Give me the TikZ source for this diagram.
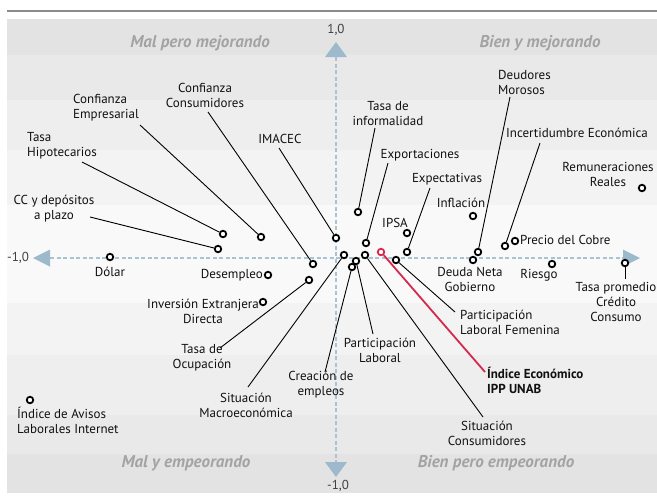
\documentclass[tikz,border=0pt]{standalone}
\usepackage{fontspec}
\setmainfont{PT Sans}

\definecolor{bandA}{HTML}{E3E3E3}
\definecolor{bandB}{HTML}{E9E9E9}
\definecolor{bandC}{HTML}{EEEEEE}
\definecolor{bandD}{HTML}{F3F3F3}
\definecolor{bandE}{HTML}{F9F9F9}
\definecolor{axisblue}{HTML}{A9C3D3}
\definecolor{tipblue}{HTML}{9CBACC}
\definecolor{quadgray}{HTML}{A3A3A3}
\definecolor{ippred}{HTML}{D42A4C}
\definecolor{txt}{HTML}{111111}

\tikzset{
  pt/.style={circle, draw=black, fill=white, line width=1.8pt, inner sep=0pt, minimum size=6.5pt},
  ptred/.style={pt, draw=ippred},
  lbl/.style={font=\fontsize{13}{15}\selectfont, text=txt, inner sep=0pt, align=center},
  quad/.style={font=\fontsize{17}{18}\selectfont\bfseries\itshape, text=quadgray, inner sep=0pt},
  conn/.style={black, line width=0.9pt},
}

\begin{document}
\begin{tikzpicture}[x=1pt,y=-1pt,line join=round]
\useasboundingbox (0,0) rectangle (657,496);

% panel
\fill[bandA] (7,19) rectangle (657,55);
\fill[bandB] (7,55) rectangle (657,100);
\fill[bandC] (7,100) rectangle (657,150);
\fill[bandD] (7,150) rectangle (657,205);
\fill[bandE] (7,205) rectangle (657,303);
\fill[bandD] (7,303) rectangle (657,355);
\fill[bandC] (7,355) rectangle (657,415);
\fill[bandB] (7,415) rectangle (657,454);
\fill[bandA] (7,454) rectangle (657,493);
\draw[line width=2pt, color=black!45] (7,11) -- (657,11);

% axes
\draw[axisblue, line width=2pt, dash pattern=on 4pt off 2.5pt] (50,258) -- (623,258);
\draw[axisblue, line width=2pt, dash pattern=on 4pt off 2.5pt] (336,57) -- (336,462);
\fill[tipblue] (33,258) -- (50,249.5) -- (50,266.5) -- cycle;
\fill[tipblue] (640,258) -- (623,249.5) -- (623,266.5) -- cycle;
\fill[tipblue] (336,42) -- (325,57) -- (347,57) -- cycle;
\fill[tipblue] (336,477) -- (325,462) -- (347,462) -- cycle;

\node[lbl, text=black!75] (ytop) at (336,30) {1,0};
\node[lbl, text=black!75] (xleft) at (18,258) {-1,0};
\node[lbl, text=black!75] (ybot) at (338,486) {-1,0};

\node[quad] (q1) at (200,43) {Mal pero mejorando};
\node[quad] (q2) at (540,43) {Bien y mejorando};
\node[quad] (q3) at (186,463) {Mal y empeorando};
\node[quad] (q4) at (496,463) {Bien pero empeorando};

% points
\node[pt] (thip) at (223,234) {};
\node[pt] (cemp) at (261,237) {};
\node[pt] (ccdep) at (218,249) {};
\node[pt] (dolar) at (110,257) {};
\node[pt] (desem) at (268,275) {};
\node[pt] (inver) at (263,302) {};
\node[pt] (ccon) at (313,264) {};
\node[pt] (tocup) at (309,280) {};
\node[pt] (imacec) at (336,238) {};
\node[pt] (tinf) at (358,212) {};
\node[pt] (expo) at (366,243) {};
\node[pt] (smac) at (344,255) {};
\node[pt] (plab) at (356,261) {};
\node[pt] (cemple) at (352,267) {};
\node[pt] (scon) at (365,255) {};
\node[pt] (plf) at (396,260) {};
\node[pt] (ipsa) at (407,233) {};
\node[pt] (expec) at (407,252) {};
\node[pt] (infl) at (473,216) {};
\node[pt] (dmor) at (478,252) {};
\node[pt] (dng) at (473,260) {};
\node[pt] (incert) at (505,246) {};
\node[pt] (cobre) at (515,241) {};
\node[pt] (riesgo) at (552,264) {};
\node[pt] (tasap) at (625,263) {};
\node[pt] (remun) at (642,188) {};
\node[pt] (avisos) at (30,400) {};
\node[ptred] (ipp) at (381,252) {};

% line ends
\coordinate (e-cemp) at (140,125);
\coordinate (e-ccon) at (208,112);
\coordinate (e-thip) at (82,162);
\coordinate (e-ccdep) at (90,217);
\coordinate (e-imacec) at (279,148);
\coordinate (e-tinf) at (375,128);
\coordinate (e-expo) at (388,163);
\coordinate (e-expec) at (430,188);
\coordinate (e-dmor) at (510,97);
\coordinate (e-incert) at (540,143);
\coordinate (e-tocup) at (220,348);
\coordinate (e-smac) at (248,387);
\coordinate (e-cemple) at (325,372);
\coordinate (e-plab) at (373,334);
\coordinate (e-scon) at (483,417);
\coordinate (e-plf) at (455,312);
\coordinate (e-ipp) at (485,372);
\coordinate (e-tasap) at (625,279);

\draw[conn] (e-cemp) -- (cemp);
\draw[conn] (e-ccon) -- (ccon);
\draw[conn] (e-thip) -- (thip);
\draw[conn] (e-ccdep) -- (ccdep);
\draw[conn] (e-imacec) -- (imacec);
\draw[conn] (e-tinf) -- (tinf);
\draw[conn] (e-expo) -- (expo);
\draw[conn] (e-expec) -- (expec);
\draw[conn] (e-dmor) -- (dmor);
\draw[conn] (e-incert) -- (incert);
\draw[conn] (e-tocup) -- (tocup);
\draw[conn] (e-smac) -- (smac);
\draw[conn] (e-cemple) -- (cemple);
\draw[conn] (e-plab) -- (plab);
\draw[conn] (e-scon) -- (scon);
\draw[conn] (e-plf) -- (plf);
\draw[conn] (e-tasap) -- (tasap);
\draw[ippred, line width=1.8pt] (e-ipp) -- (ipp);

% labels
\node[lbl, align=left, anchor=west] (l-cemp) at (73,108) {Confianza\\Empresarial};
\node[lbl] (l-ccon) at (205,95) {Confianza\\Consumidores};
\node[lbl, align=left, anchor=west] (l-thip) at (27,146) {Tasa\\Hipotecarios};
\node[lbl] (l-ccdep) at (54,209) {CC y depósitos\\a plazo};
\node[lbl] (l-imacec) at (280,139) {IMACEC};
\node[lbl] (l-tinf) at (388,114) {Tasa de\\informalidad};
\node[lbl] (l-expo) at (420,155) {Exportaciones};
\node[lbl] (l-expec) at (447,179) {Expectativas};
\node[lbl] (l-ipsa) at (395,223) {IPSA};
\node[lbl] (l-infl) at (461,203) {Inflación};
\node[lbl, align=left, anchor=west] (l-dmor) at (498,82) {Deudores\\Morosos};
\node[lbl] (l-incert) at (577,133) {Incertidumbre Económica};
\node[lbl] (l-remun) at (608,174) {Remuneraciones\\Reales};
\node[lbl, anchor=west] (l-cobre) at (520,240) {Precio del Cobre};
\node[lbl] (l-dolar) at (110,272) {Dólar};
\node[lbl, anchor=east] (l-desem) at (263,275) {Desempleo};
\node[lbl] (l-inver) at (203,311) {Inversión Extranjera\\Directa};
\node[lbl] (l-tocup) at (202,358) {Tasa de\\Ocupación};
\node[lbl] (l-smac) at (246,405) {Situación\\Macroeconómica};
\node[lbl] (l-cemple) at (321,385) {Creación de\\empleos};
\node[lbl] (l-plab) at (380,350) {Participación\\Laboral};
\node[lbl] (l-scon) at (487,433) {Situación\\Consumidores};
\node[lbl, align=left, anchor=west] (l-plf) at (460,322) {Participación\\Laboral Femenina};
\node[lbl, align=left, anchor=west, font=\fontsize{13}{15}\selectfont\bfseries] (l-ipp) at (487,380) {Índice Económico\\IPP UNAB};
\node[lbl] (l-dng) at (470,279) {Deuda Neta\\Gobierno};
\node[lbl] (l-riesgo) at (539,275) {Riesgo};
\node[lbl] (l-tasap) at (616,302) {Tasa promedio\\Crédito\\Consumo};
\node[lbl, align=left, anchor=west] (l-avisos) at (17,420) {Índice de Avisos\\Laborales Internet};

\end{tikzpicture}
\end{document}
